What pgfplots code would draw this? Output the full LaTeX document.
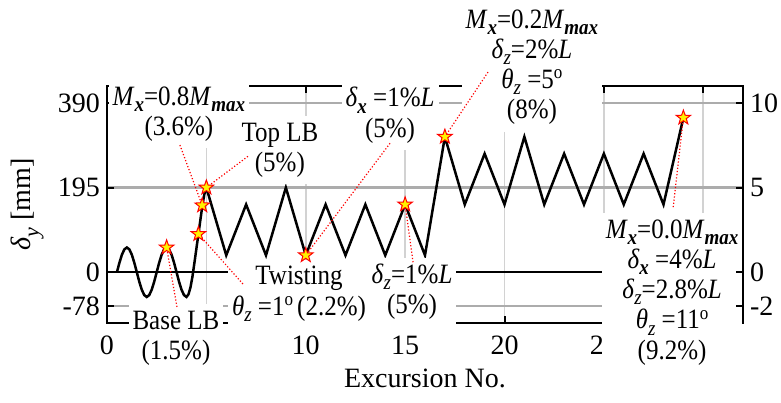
\documentclass[border=0pt]{standalone}
\usepackage{fontspec}
\setmainfont{Liberation Serif}
\usepackage{pgfplots}
\pgfplotsset{compat=1.18}
\pgfdeclareplotmark{pentagram}{%
  \pgfpathmoveto{\pgfpointpolar{90}{\pgfplotmarksize}}%
  \pgfpathlineto{\pgfpointpolar{126}{0.4\pgfplotmarksize}}%
  \pgfpathlineto{\pgfpointpolar{162}{\pgfplotmarksize}}%
  \pgfpathlineto{\pgfpointpolar{198}{0.4\pgfplotmarksize}}%
  \pgfpathlineto{\pgfpointpolar{234}{\pgfplotmarksize}}%
  \pgfpathlineto{\pgfpointpolar{270}{0.4\pgfplotmarksize}}%
  \pgfpathlineto{\pgfpointpolar{306}{\pgfplotmarksize}}%
  \pgfpathlineto{\pgfpointpolar{342}{0.4\pgfplotmarksize}}%
  \pgfpathlineto{\pgfpointpolar{18}{\pgfplotmarksize}}%
  \pgfpathlineto{\pgfpointpolar{54}{0.4\pgfplotmarksize}}%
  \pgfpathclose
  \pgfusepathqfillstroke}
\newcommand{\bsub}[1]{\raisebox{-0.22em}{\fontsize{9.5}{9.5}\selectfont\bfseries\itshape #1}}
\newcommand{\isub}[1]{\raisebox{-0.22em}{\fontsize{9.5}{9.5}\selectfont\itshape #1}}
\newcommand{\dg}{\raisebox{0.34em}{\fontsize{8.5}{8.5}\selectfont o}}
\newcommand{\ann}[1]{\scalebox{1}[1.12]{\renewcommand\arraystretch{1.08}\begin{tabular}{@{}c@{}}#1\end{tabular}}}
\tikzset{
  anno/.style={fill=white, inner sep=2pt, font=\fontsize{12.5}{12.5}\selectfont},
  redline/.style={red, densely dotted, line width=0.6pt},
}
\begin{document}
\begin{tikzpicture}
\begin{axis}[
  scale only axis, width=318pt, height=118.5pt,
  xmin=0, xmax=32, ymin=-117, ymax=429,
  xtick={0,5,10,15,20,25,30}, xticklabels={0,,10,15,20,25,},
  ytick={-78,0,195,390}, yticklabels={-78,0,195,390},
  ytick pos=left, xtick pos=both,
  tick align=inside, major tick length=3.5pt,
  axis line style={black, line width=1pt},
  tick style={black, line width=1pt},
  grid=major,
  x grid style={gray!35, line width=0.8pt},
  y grid style={gray!65, line width=1.1pt},
  tick label style={font=\fontsize{14}{16}\selectfont},
  xticklabel style={yshift=-3pt},
  label style={font=\fontsize{14}{16}\selectfont},
  xlabel={Excursion No.},
  ylabel={\textit{δ}\raisebox{-0.28em}{\fontsize{11}{11}\selectfont\itshape y} [mm]},
  ylabel style={at={(axis description cs:-0.125,0.5)}, anchor=center},
  clip=false,
]
\addplot[black, line width=1pt] coordinates {(0,0) (32,0)};
\addplot[black, line width=1.25pt] coordinates {
(0.5,0) (0.625,21.8) (0.75,40.3) (0.875,52.7) (1,57) (1.125,52.7) (1.25,40.3) (1.375,21.8)
(1.5,0) (1.625,-21.8) (1.75,-40.3) (1.875,-52.7) (2,-57) (2.125,-52.7) (2.25,-40.3) (2.375,-21.8)
(2.5,0) (2.625,21.8) (2.75,40.3) (2.875,52.7) (3,57) (3.125,52.7) (3.25,40.3) (3.375,21.8)
(3.5,0) (3.625,-21.8) (3.75,-40.3) (3.875,-52.7) (4,-57)
(4.1,-51) (4.2,-35) (4.3,-10) (4.4,22) (4.5,55) (4.6,88) (4.7,121) (4.8,154) (4.9,180) (5,195)
(6,39) (7,156) (8,39) (9,195) (10,39) (11,156) (12,39) (13,156) (14,39) (15,156) (16,39)
(17,312) (18,156) (19,273) (20,156) (21,312) (22,156) (23,273) (24,156) (25,273) (26,156)
(27,273) (28,156) (29,356)
};
% annotation boxes
\node[anno] at (axis cs:3.62,364) {\ann{\textit{M}\bsub{x}=0.8\textit{M}\bsub{max}\\(3.6\%)}};
\node[anno] at (axis cs:8.70,281) {\ann{Top LB\\(5\%)}};
\node[anno] at (axis cs:14.24,360) {\ann{\textit{δ}\bsub{x} =1\%\textit{L}\\(5\%)}};
\node[anno] at (axis cs:21.38,472) {\ann{\textit{M}\bsub{x}=0.2\textit{M}\bsub{max}\\\textit{δ}\isub{z}=2\%\textit{L}\\\textit{θ}\isub{z} =5\dg\\(8\%)}};
\node[anno] at (axis cs:9.66,-50) {\ann{Twisting\\\textit{θ}\isub{z} =1\dg\,(2.2\%)}};
\node[anno] at (axis cs:3.47,-153) {\ann{Base LB\\(1.5\%)}};
\node[anno] at (axis cs:15.35,-47) {\ann{\textit{δ}\isub{z}=1\%\textit{L}\\(5\%)}};
\node[anno] at (axis cs:28.43,-47) {\ann{\textit{M}\bsub{x}=0.0\textit{M}\bsub{max}\\\textit{δ}\bsub{x} =4\%\textit{L}\\\textit{δ}\isub{z}=2.8\%\textit{L}\\\textit{θ}\isub{z} =11\dg\\(9.2\%)}};
% leader lines
\addplot[redline] coordinates {(3.67,293) (4.79,154)};
\addplot[redline] coordinates {(7.09,267) (5,195)};
\addplot[redline] coordinates {(14.24,297) (10,39)};
\addplot[redline] coordinates {(19.17,461) (17,312)};
\addplot[redline] coordinates {(6.84,-27) (4.6,88)};
\addplot[redline] coordinates {(3.52,-80) (3,57)};
\addplot[redline] coordinates {(15.40,23) (15,156)};
\addplot[redline] coordinates {(28.49,150) (29,356)};
% markers
\addplot[only marks, mark=pentagram, mark size=3.8pt, draw=red, fill=yellow, line width=0.5pt] coordinates {
(3,57) (4.6,88) (4.79,154) (5,195) (10,39) (15,156) (17,312) (29,356)};
\end{axis}
\begin{axis}[
  scale only axis, width=318pt, height=118.5pt,
  xmin=0, xmax=32, ymin=-3, ymax=11,
  axis x line=none, axis y line=right,
  y axis line style={-, black, line width=1pt},
  ytick={-2,0,5,10}, yticklabels={-2,0,5,10},
  tick align=inside, major tick length=3.5pt,
  tick style={black, line width=1pt},
  tick label style={font=\fontsize{14}{16}\selectfont},
]
\end{axis}
\pgfresetboundingbox
\path[use as bounding box] (-53.5pt,-39.5pt) rectangle (337pt,161.5pt);
\end{tikzpicture}
\end{document}
